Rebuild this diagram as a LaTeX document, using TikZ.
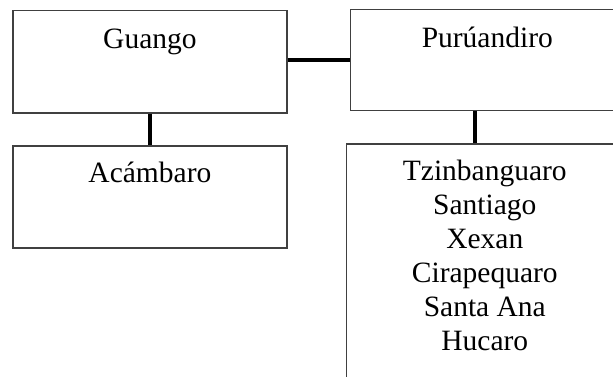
\documentclass[tikz,border=0pt]{standalone}
\usepackage{fontspec}
\setmainfont{Liberation Serif}
\usepackage{tikz}
\usetikzlibrary{positioning}
\tikzstyle{pueblo} = [rectangle, draw=black!75, line width=1.3pt, inner sep=0pt, anchor=base, font=\fontsize{29.5}{34}\selectfont]
\tikzstyle{link} = [line width=4pt, black]

\begin{document}
\begin{tikzpicture}
    \useasboundingbox (0,0) rectangle (613pt,-377pt);
    \clip (0,0) rectangle (613pt,-377pt);
    \node(guango)[pueblo, minimum width=274pt, text height=37.6pt, text depth=64.7pt] at (149.9pt,-48.3pt) {Guango};
    \node(acambaro)[pueblo, minimum width=274pt, text height=36.7pt, text depth=65.3pt] at (149.9pt,-182.7pt) {Acámbaro};
    \node(puruandiro)[pueblo, minimum width=273pt, text height=38.7pt, text depth=62.7pt] at (487.3pt,-48pt) {Purúandiro};
    \node(pueblos)[pueblo, minimum width=276pt, text height=36.7pt, text depth=215pt] at (484.8pt,-180.7pt)
        {\parbox[t]{250pt}{\centering Tzinbanguaro\\Santiago\\Xexan\\Cirapequaro\\Santa Ana\\Hucaro}};
    %
    \draw[link](puruandiro.west -| guango.east) -- (puruandiro.west);
    \draw[link](guango.south) -- (guango.south |- acambaro.north);
    \draw[link]([xshift=-12pt]puruandiro.south) -- ([xshift=-12pt]puruandiro.south |- pueblos.north);
\end{tikzpicture}
\end{document}
